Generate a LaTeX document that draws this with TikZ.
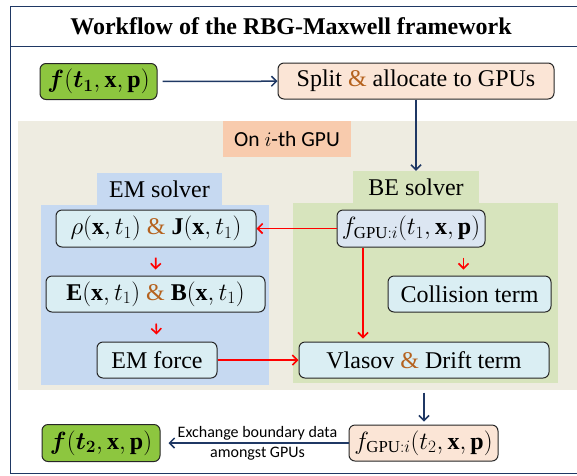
\documentclass[tikz,border=0pt]{standalone}
\usepackage{amsmath}
\usepackage{fontspec}
\setmainfont{Liberation Serif}
\newfontfamily\calibri{Carlito}
\usetikzlibrary{arrows.meta}
\definecolor{navyline}{HTML}{1F3864}
\definecolor{leafgreen}{HTML}{8DC63F}
\definecolor{peach}{HTML}{FBE5D6}
\definecolor{gpulbl}{HTML}{F8CBAD}
\definecolor{gpubg}{HTML}{EEECE1}
\definecolor{embg}{HTML}{C6D9F1}
\definecolor{bebg}{HTML}{D7E4BD}
\definecolor{cyanbox}{HTML}{DAEEF3}
\definecolor{lavbox}{HTML}{DCE6F2}
\definecolor{ampcol}{HTML}{B5621E}
\newcommand{\amp}{{\color{ampcol}\&}}

\begin{document}
\begin{tikzpicture}[x=1pt, y=-1pt,
every node/.style = {font=\fontsize{24}{28}\selectfont, inner sep=0pt},
box/.style = {draw=black!85, line width=1pt, rounded corners=6pt,
  minimum height=36pt},
panellbl/.style = {minimum height=32pt},
bluearr/.style = {draw=navyline, line width=1.5pt,
  -{Straight Barb[length=5pt,width=10pt]}},
redarr/.style = {draw=red, line width=1.6pt,
  -{Straight Barb[length=5pt,width=10pt]}}
]
\useasboundingbox (0,0) rectangle (577,475);
% frame and title
\draw[navyline, line width=1pt] (10,6) rectangle (590,473);
\draw[navyline, line width=1pt] (10,46) -- (590,46);
\node (title) at (291,26) {\bfseries Workflow of the RBG-Maxwell framework};

\node [box, fill=leafgreen, minimum width=117pt] (fstart) at (98.5,81.5)
  {$\boldsymbol{f}(\boldsymbol{t_1},\mathbf{x},\mathbf{p})$};
\node [box, fill=peach, minimum width=276pt] (split) at (416,81)
  {Split \amp{} allocate to GPUs};

% GPU panel
\fill[gpubg] (18,121) rectangle (590,390);
\node [fill=gpulbl, minimum width=128pt, minimum height=36pt,
  font=\calibri\fontsize{21.5}{26}\selectfont] (gpu) at (287,139) {On $i$-th GPU};

% EM solver
\fill[embg] (41,205) rectangle (269,385);
\node [panellbl, fill=embg, minimum width=125pt] (emlbl) at (159.5,189) {EM solver};
\node [box, fill=cyanbox, minimum width=200pt, minimum height=37pt] (rhoJ) at (156,228.5)
  {$\rho(\mathbf{x},t_1)$ \amp{} $\mathbf{J}(\mathbf{x},t_1)$};
\node [box, fill=cyanbox, minimum width=219pt] (EB) at (155.5,294)
  {$\mathbf{E}(\mathbf{x},t_1)$ \amp{} $\mathbf{B}(\mathbf{x},t_1)$};
\node [box, fill=cyanbox, minimum width=120pt] (force) at (157,360) {EM force};

% BE solver
\fill[bebg] (293,203) rectangle (558,383);
\node [panellbl, fill=bebg, minimum width=126pt] (belbl) at (416,187) {BE solver};
\node [box, fill=lavbox, minimum width=148pt, minimum height=37pt] (fgpu) at (411,228.5)
  {$f_{\mathrm{GPU}:i}(t_1,\mathbf{x},\mathbf{p})$};
\node [box, fill=cyanbox, minimum width=163pt] (coll) at (469.5,294) {Collision term};
\node [box, fill=cyanbox, minimum width=250pt] (vlasov) at (424,360)
  {Vlasov \amp{} Drift term};

% next step
\node [box, fill=peach, minimum width=149pt] (fgpunext) at (423.5,443)
  {$f_{\mathrm{GPU}:i}(t_2,\mathbf{x},\mathbf{p})$};
\node [box, fill=leafgreen, minimum width=118pt, minimum height=37pt] (fend) at (101,443)
  {$\boldsymbol{f}(\boldsymbol{t_2},\mathbf{x},\mathbf{p})$};

% connectors
\draw[bluearr, shorten <=5pt] (fstart) -- (split);
\draw[bluearr] (split) -- (belbl);
\draw[redarr] (fgpu) -- (rhoJ);
\draw[redarr, shorten <=10pt, shorten >=6pt] (rhoJ) -- (EB);
\draw[redarr, shorten <=11pt, shorten >=7pt] (EB) -- (force);
\draw[redarr, shorten <=10pt, shorten >=6pt]
  ([xshift=-6pt]coll.north |- fgpu.south) -- ([xshift=-6pt]coll.north);
\draw[redarr, shorten >=3pt]
  ([xshift=-48pt]fgpu.south) -- ([xshift=-48pt]fgpu.south |- vlasov.north);
\draw[redarr] (force) -- (vlasov);
\draw[bluearr, shorten <=14pt, shorten >=3pt]
  (vlasov.south) -- (vlasov.south |- fgpunext.north);
\draw[bluearr, shorten >=8pt] (fgpunext.west) -- (fgpunext.west -| fend.east)
  node [midway, xshift=3pt, align=center, font=\calibri\fontsize{16}{20}\selectfont]
  {Exchange boundary data\\amongst GPUs};
\end{tikzpicture}
\end{document}
